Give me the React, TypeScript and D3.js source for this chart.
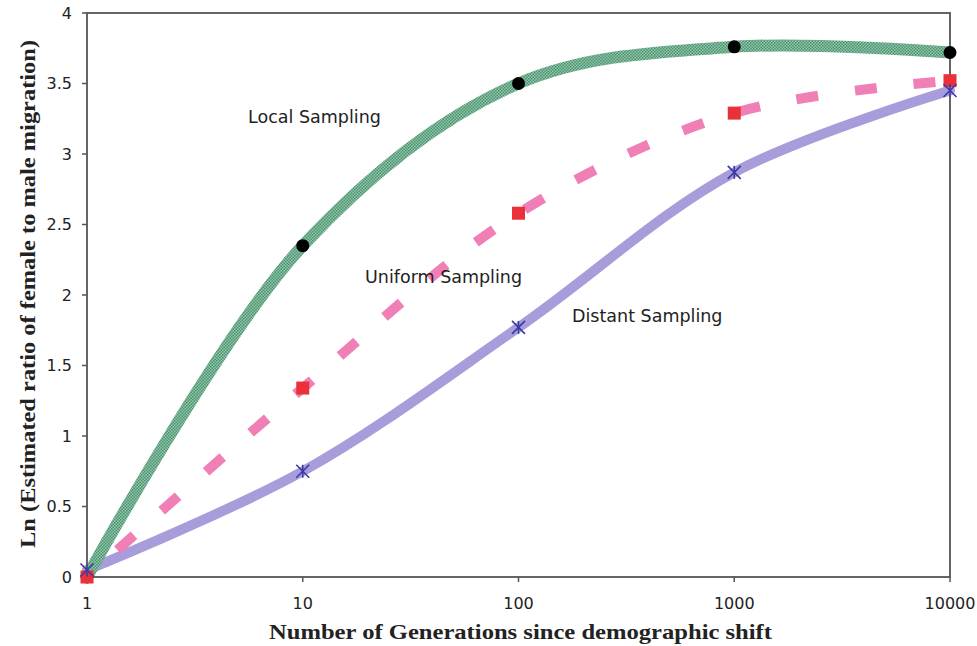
import React from "react";
import * as d3 from "d3";

// generations (log axis) and the three sampling series
const generations = [1, 10, 100, 1000, 10000];
const localValues = [0.0, 2.35, 3.5, 3.76, 3.72];
const uniformValues = [0.0, 1.34, 2.58, 3.29, 3.52];
const distantValues = [0.05, 0.75, 1.77, 2.87, 3.45];
const yTicks = [0, 0.5, 1, 1.5, 2, 2.5, 3, 3.5, 4];

const width = 977;
const height = 646;
const margin = { top: 13, right: 27, bottom: 68, left: 87 };

const App = () => {
  const x = d3
    .scaleLog()
    .domain([1, 10000])
    .range([margin.left, width - margin.right]);
  const y = d3
    .scaleLinear()
    .domain([0, 4])
    .range([height - margin.bottom - 1, margin.top]);

  const line = d3
    .line<number>()
    .x((_, i) => x(generations[i]))
    .y((d) => y(d))
    .curve(d3.curveCatmullRom.alpha(0.5));

  const tickFont = "'DejaVu Sans', Verdana, sans-serif";
  const titleFont = "'Liberation Serif', 'DejaVu Serif', serif";
  const x0 = margin.left;
  const x1 = width - margin.right;
  const y0 = height - margin.bottom - 1;
  const y1 = margin.top;

  return (
    <svg
      width={width}
      height={height}
      style={{ position: "fixed", left: 0, top: 0, display: "block", background: "#fff" }}
    >
      <defs>
        <pattern id="greenDots" width="3" height="3" patternUnits="userSpaceOnUse">
          <rect width="3" height="3" fill="#8fc7aa" />
          <rect width="1.5" height="1.5" fill="#4f9272" />
          <rect x="1.5" y="1.5" width="1.5" height="1.5" fill="#4f9272" />
        </pattern>
        <filter id="soft" x="-5%" y="-5%" width="110%" height="110%">
          <feGaussianBlur stdDeviation="0.7" />
        </filter>
      </defs>

      {/* plot frame */}
      <rect x={x0} y={y1} width={x1 - x0} height={y0 - y1} fill="none" stroke="#555" strokeWidth={1.8} />

      {/* y axis ticks */}
      {yTicks.map((t) => (
        <g key={t}>
          <line x1={x0 - 5} x2={x0} y1={y(t)} y2={y(t)} stroke="#555" strokeWidth={1.5} />
          <text
            x={x0 - 15}
            y={y(t)}
            dy="0.36em"
            textAnchor="end"
            fontFamily={tickFont}
            fontSize={16}
            fill="#222"
          >
            {t}
          </text>
        </g>
      ))}

      {/* x axis ticks */}
      {generations.map((g) => (
        <g key={g}>
          <line x1={x(g)} x2={x(g)} y1={y0} y2={y0 + 5} stroke="#555" strokeWidth={1.5} />
          <text
            x={x(g)}
            y={y0 + 32}
            textAnchor="middle"
            fontFamily={tickFont}
            fontSize={16}
            fill="#222"
          >
            {g}
          </text>
        </g>
      ))}

      {/* series lines */}
      <path d={line(distantValues) ?? ""} fill="none" stroke="#a99cda" strokeWidth={10} strokeLinecap="round" filter="url(#soft)" />
      <path
        d={line(uniformValues) ?? ""}
        fill="none"
        stroke="#f07fb5"
        strokeWidth={10}
        strokeDasharray="22 37"
        strokeDashoffset={-41}
        filter="url(#soft)"
      />
      <path d={line(localValues) ?? ""} fill="none" stroke="url(#greenDots)" strokeWidth={12} strokeLinecap="round" />

      {/* markers */}
      {localValues.map((v, i) => (
        <circle key={"l" + i} cx={x(generations[i])} cy={y(v)} r={6.5} fill="#000" />
      ))}
      {uniformValues.map((v, i) => (
        <rect key={"u" + i} x={x(generations[i]) - 6.5} y={y(v) - 6.5} width={13} height={13} fill="#ea3038" />
      ))}
      {distantValues.map((v, i) => {
        const cx = x(generations[i]);
        const cy = y(v);
        const r = 6.5;
        return (
          <g key={"d" + i} stroke="#3a3aa6" strokeWidth={1.6}>
            <line x1={cx - r} x2={cx + r} y1={cy - r} y2={cy + r} />
            <line x1={cx - r} x2={cx + r} y1={cy + r} y2={cy - r} />
            <line x1={cx} x2={cx} y1={cy - r} y2={cy + r} />
          </g>
        );
      })}

      {/* series labels */}
      <g fontFamily={tickFont} fontSize={17.5} fill="#222">
        <text x={248} y={123}>Local Sampling</text>
        <text x={365} y={283}>Uniform Sampling</text>
        <text x={572} y={322}>Distant Sampling</text>
      </g>

      {/* axis titles */}
      <text
        x={(x0 + x1) / 2 + 2}
        y={639}
        textAnchor="middle"
        fontFamily={titleFont}
        fontWeight="bold"
        fontSize={22}
        textLength={503}
        lengthAdjust="spacingAndGlyphs"
        fill="#222"
      >
        Number of Generations since demographic shift
      </text>
      <text
        transform={`translate(35, 294) rotate(-90)`}
        textAnchor="middle"
        fontFamily={titleFont}
        fontWeight="bold"
        fontSize={22}
        textLength={508}
        lengthAdjust="spacingAndGlyphs"
        fill="#222"
      >
        Ln (Estimated ratio of female to male migration)
      </text>
    </svg>
  );
};

export default App;
